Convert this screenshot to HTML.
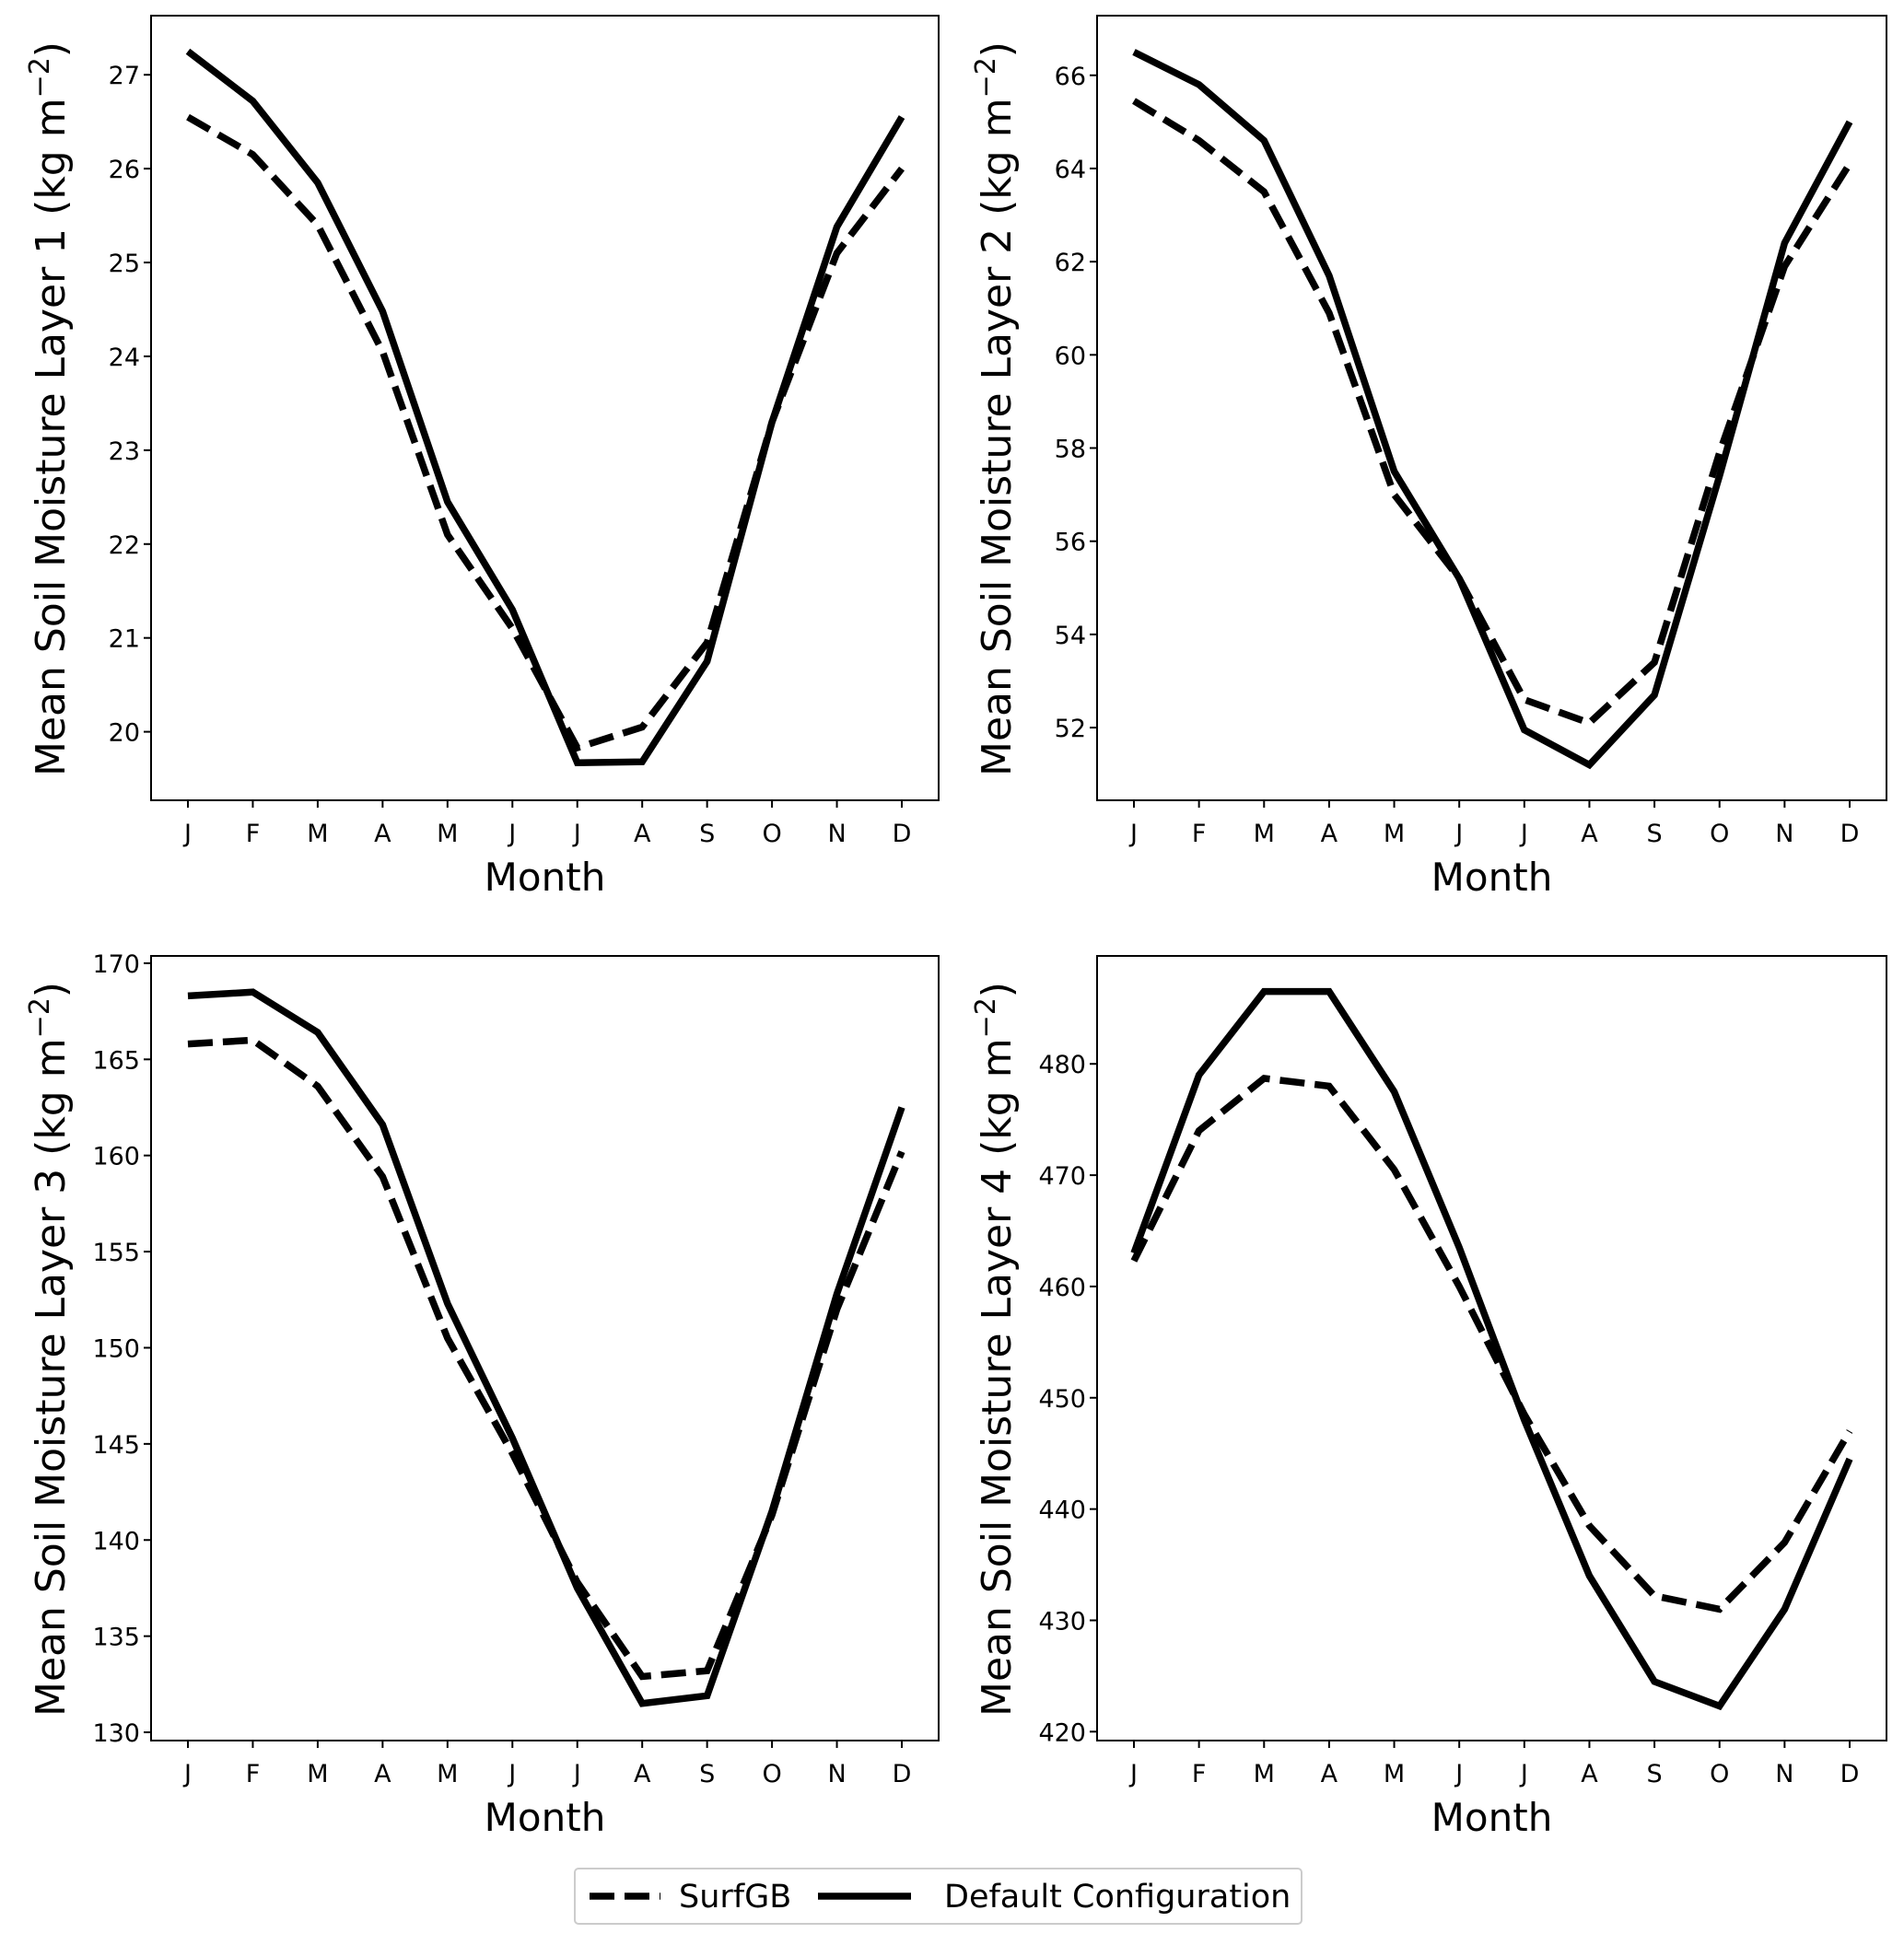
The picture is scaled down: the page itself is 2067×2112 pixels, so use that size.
<!DOCTYPE html>
<html><head><meta charset="utf-8"><style>
html,body{margin:0;padding:0;background:#fff;}
svg{display:block;font-family:"DejaVu Sans","Liberation Sans",sans-serif;}
</style></head><body>
<svg id="fig" width="2067" height="2112" viewBox="0 0 2067 2112"></svg>
<script>
const months = ["J","F","M","A","M","J","J","A","S","O","N","D"];
const l1Default = [27.25,26.72,25.85,24.48,22.45,21.3,19.67,19.68,20.75,23.3,25.38,26.55];
const l1Surf = [26.55,26.15,25.4,24.05,22.1,21.1,19.83,20.05,20.95,23.3,25.1,26.0];
const l2Default = [66.5,65.8,64.6,61.7,57.5,55.2,51.95,51.2,52.7,57.4,62.4,65.0];
const l2Surf = [65.45,64.6,63.5,60.9,57.0,55.2,52.6,52.1,53.4,57.9,61.9,64.1];
const l3Default = [168.3,168.5,166.4,161.6,152.3,145.3,137.5,131.5,131.9,141.5,152.8,162.5];
const l3Surf = [165.8,166.0,163.6,158.9,150.5,144.5,137.8,132.9,133.2,141.3,152.0,160.2];
const l4Default = [463,479,486.5,486.5,477.5,463.5,448,434,424.5,422.3,431,444.5];
const l4Surf = [462.3,474,478.7,478,470.5,460,448.5,438.5,432.2,431,437,447];
const l1Ticks = [20,21,22,23,24,25,26,27];
const l2Ticks = [52,54,56,58,60,62,64,66];
const l3Ticks = [130,135,140,145,150,155,160,165,170];
const l4Ticks = [420,430,440,450,460,470,480];

const NS="http://www.w3.org/2000/svg";
const svg=document.getElementById('fig');
function mk(tag,attrs,parent){const e=document.createElementNS(NS,tag);for(const k in attrs)e.setAttribute(k,attrs[k]);(parent||svg).appendChild(e);return e;}

const panels=[
 {x0:164,x1:1019,y0:17,y1:869,min:19.27,max:27.63,ticks:l1Ticks,d:l1Default,s:l1Surf,n:"1"},
 {x0:1191,x1:2048,y0:17,y1:869,min:50.44,max:67.28,ticks:l2Ticks,d:l2Default,s:l2Surf,n:"2"},
 {x0:164,x1:1019,y0:1038,y1:1890,min:129.57,max:170.38,ticks:l3Ticks,d:l3Default,s:l3Surf,n:"3"},
 {x0:1191,x1:2048,y0:1038,y1:1890,min:419.2,max:489.7,ticks:l4Ticks,d:l4Default,s:l4Surf,n:"4"}
];
panels.forEach(p=>{
  const g=mk('g',{});
  
  
  const xs=i=>p.x0+40+i*(p.x1-p.x0-80)/11;
  const ys=v=>p.y1-(v-p.min)/(p.max-p.min)*(p.y1-p.y0);
  p.ticks.forEach(t=>{
    const y=ys(t);
    const tk=mk('line',{x1:p.x0-8,x2:p.x0,y1:y,y2:y,stroke:'#000','stroke-width':2},g);
    
    
    const tl=mk('text',{x:p.x0-12,y:y+10,'text-anchor':'end','font-size':27},g);
    tl.textContent=t;
    
    
  });
  months.forEach((m,i)=>{
    const x=xs(i);
    const tk=mk('line',{x1:x,x2:x,y1:p.y1,y2:p.y1+8,stroke:'#000','stroke-width':2},g);
    
    
    const tl=mk('text',{x:x,y:p.y1+45,'text-anchor':'middle','font-size':27},g);
    tl.textContent=m;
    
    
  });
  const xt=mk('text',{x:(p.x0+p.x1)/2,y:p.y1+98,'text-anchor':'middle','font-size':42},g);
  xt.textContent='Month';
  
  
  const yx=p.x0-94, yy=(p.y0+p.y1)/2+1;
  const yt=mk('text',{x:yx,y:yy,'text-anchor':'middle','font-size':44,transform:`rotate(-90 ${yx} ${yy})`},g);
  yt.innerHTML='Mean Soil Moisture Layer '+p.n+' (kg m<tspan baseline-shift="super" font-size="30">−2</tspan>)';
  
  
  const ptsD=p.d.map((v,i)=>xs(i)+','+ys(v)).join(' ');
  const ptsS=p.s.map((v,i)=>xs(i)+','+ys(v)).join(' ');
  const ls=mk('polyline',{points:ptsS,fill:'none',stroke:'#000','stroke-width':7.5,'stroke-dasharray':'27 11'},g);
  
  
  const ld=mk('polyline',{points:ptsD,fill:'none',stroke:'#000','stroke-width':7.5},g);
  
  
  const fr=mk('rect',{x:p.x0,y:p.y0,width:p.x1-p.x0,height:p.y1-p.y0,fill:'none',stroke:'#000','stroke-width':2},g);
  
  
});
const lg=mk('g',{});


mk('rect',{x:624,y:2029,width:789,height:60,rx:4,fill:'#fff',stroke:'#ccc','stroke-width':2},lg);
const e1=mk('line',{x1:640,x2:717,y1:2059,y2:2059,stroke:'#000','stroke-width':7.5,'stroke-dasharray':'27 11'},lg);


const t1=mk('text',{x:737,y:2071,'font-size':35},lg);t1.textContent='SurfGB';


const e2=mk('line',{x1:888,x2:989,y1:2059,y2:2059,stroke:'#000','stroke-width':7.5},lg);


const t2=mk('text',{x:1025,y:2071,'font-size':35},lg);t2.textContent='Default Configuration';


</script>
</body></html>
